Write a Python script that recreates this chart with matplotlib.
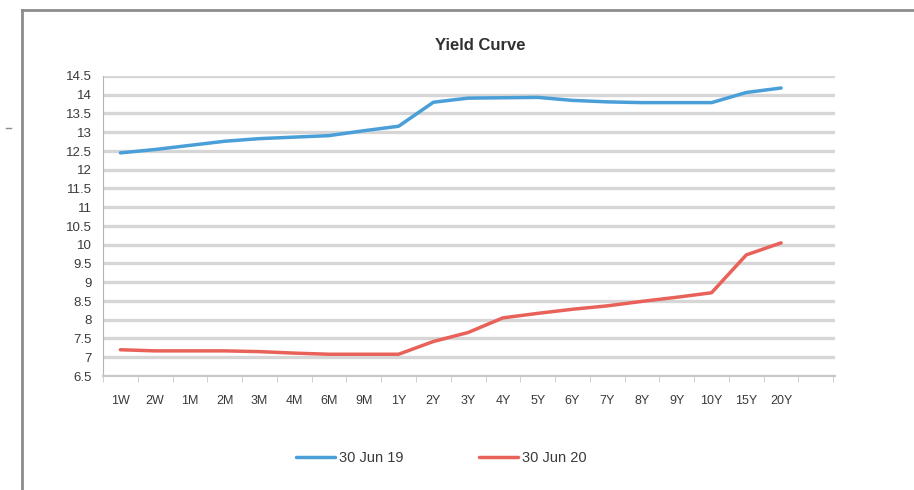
import matplotlib.pyplot as plt
import numpy as np
from matplotlib.lines import Line2D

plt.rcParams['font.family'] = ['Liberation Sans', 'DejaVu Sans']

tenors = ['1W', '2W', '1M', '2M', '3M', '4M', '6M', '9M', '1Y', '2Y',
          '3Y', '4Y', '5Y', '6Y', '7Y', '8Y', '9Y', '10Y', '15Y', '20Y']
jun19 = [12.45, 12.54, 12.65, 12.76, 12.83, 12.87, 12.91, 13.04, 13.16, 13.80,
         13.91, 13.92, 13.93, 13.85, 13.81, 13.79, 13.79, 13.79, 14.06, 14.18]
jun20 = [7.20, 7.17, 7.17, 7.17, 7.15, 7.11, 7.08, 7.08, 7.08, 7.42,
         7.66, 8.05, 8.17, 8.28, 8.37, 8.49, 8.60, 8.72, 9.73, 10.05]
yticks = [6.5, 7, 7.5, 8, 8.5, 9, 9.5, 10, 10.5, 11, 11.5, 12, 12.5, 13, 13.5, 14, 14.5]

W, H = 914, 490
fig = plt.figure(figsize=(W / 100, H / 100), dpi=100)
ax = fig.add_axes([103 / W, 1 - 376 / H, (835 - 103) / W, (376 - 76) / H])

x = np.arange(len(tenors))
ax.plot(x, jun19, color='#4a9fd8', lw=2.5, label='30 Jun 19', solid_capstyle='round')
ax.plot(x, jun20, color='#e8625a', lw=2.5, label='30 Jun 20', solid_capstyle='round')

ax.set_xlim(-0.42, 20.55)
ax.set_ylim(6.5, 14.5)
ax.set_yticks(yticks)
ax.set_yticklabels([f'{v:g}' for v in yticks])
ax.set_xticks(x)
ax.set_xticklabels(tenors)
# category tick marks sit between the labels
ax.set_xticks(np.arange(-0.5, 21, 1), minor=True)

ax.grid(axis='y', color='#d6d6d6', lw=2.4)
ax.set_axisbelow(True)
for s in ['top', 'right']:
    ax.spines[s].set_visible(False)
ax.spines['left'].set_color('#b5b5b5')
ax.spines['bottom'].set_color('#c8c8c8')
ax.spines['bottom'].set_linewidth(1.5)
ax.tick_params(axis='y', length=0, pad=8, labelsize=9.5, labelcolor='#3a3a3a')
ax.tick_params(axis='x', which='major', length=0, pad=14, labelsize=9, labelcolor='#3a3a3a')
ax.tick_params(axis='x', which='minor', length=4, color='#c8c8c8')

fig.text(480 / W, 1 - 45 / H, 'Yield Curve', ha='center', va='center',
         fontsize=12, fontweight='bold', color='#303030')

fig.legend(loc='center', bbox_to_anchor=(441 / W, 1 - 458 / H), ncol=2, frameon=False,
           fontsize=10.5, labelcolor='#3a3a3a', handlelength=2.7, handletextpad=0.25,
           columnspacing=5.2)

# outer frame around the chart
fig.add_artist(Line2D([22 / W, 1], [1 - 10 / H, 1 - 10 / H], color='#8c8c8c', lw=2))
fig.add_artist(Line2D([22 / W, 22 / W], [0, 1 - 10 / H], color='#8c8c8c', lw=2))
fig.add_artist(Line2D([6 / W, 11 / W], [1 - 128 / H, 1 - 128 / H], color='#8c8c8c', lw=1))

fig.savefig('out.png', dpi=100)
